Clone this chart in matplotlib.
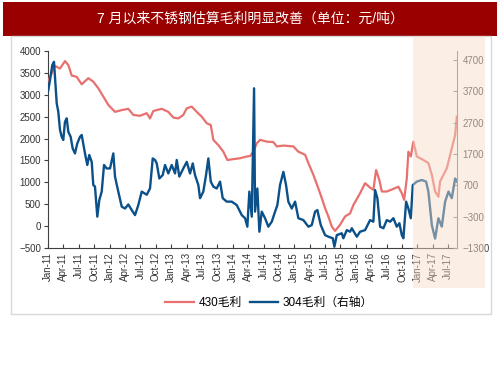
import matplotlib
matplotlib.use("Agg")
import matplotlib.pyplot as plt
from matplotlib.patches import Rectangle

plt.rcParams['font.family'] = ['Liberation Sans', 'Noto Sans CJK SC', 'DejaVu Sans']

title = "7 月以来不锈钢估算毛利明显改善（单位：元/吨）"
label_430 = "430毛利"
label_304 = "304毛利（右轴）"

# x positions: months elapsed since Jan-2011
t430 = [0, 1.36, 2.34, 3.31, 3.96, 4.62, 5.59, 6.57, 7.86, 8.83, 9.8, 10.78, 11.75, 13.06, 14.37,
        15.65, 16.63, 17.93, 19.24, 19.88, 20.53, 22.16, 23.45, 24.42, 25.4, 26.37, 27.04, 28.01,
        28.99, 29.96, 30.94, 31.72, 32.22, 33.2, 34.17, 34.95, 36.12, 37.43, 38.73, 39.38, 40.02,
        40.68, 41.33, 42.63, 43.92, 44.58, 45.87, 47.82, 48.79, 50.1, 50.74, 51.72, 52.69, 53.35,
        54.0, 54.64, 55.3, 55.95, 56.92, 57.89, 58.87, 59.51, 60.82, 61.79, 62.77, 63.41, 63.94,
        64.58, 65.05, 66.02, 67.31, 68.28, 68.95, 69.4, 69.92, 70.23, 70.7, 71.21, 71.87, 73.16,
        74.13, 74.8, 75.44, 76.08, 76.41, 77.72, 78.69, 79.34, 79.67]
v430 = [3300, 3660, 3600, 3770, 3680, 3440, 3410, 3240, 3380, 3300, 3150, 2960, 2770, 2610, 2650,
        2680, 2540, 2520, 2580, 2460, 2630, 2680, 2610, 2480, 2460, 2540, 2690, 2730, 2610, 2500,
        2350, 2310, 1970, 1850, 1700, 1510, 1530, 1550, 1590, 1600, 1700, 1890, 1970, 1930, 1920,
        1820, 1840, 1820, 1700, 1630, 1440, 1170, 860, 640, 410, 220, -10, -110, 30, 220,
        290, 480, 750, 980, 880, 830, 1280, 1050, 790, 790, 850, 900, 750, 600, 1090,
        1700, 1590, 1930, 1590, 1510, 1440, 1170, 790, 670, 1020, 1320, 1780, 2080, 2500]

t304 = [0.06, 0.39, 0.84, 1.17, 1.36, 1.70, 2.01, 2.34, 2.67, 2.98, 3.31, 3.65, 3.96, 4.42, 4.81,
        5.26, 5.71, 6.24, 6.57, 7.21, 7.66, 8.05, 8.52, 8.83, 9.16, 9.61, 10.0, 10.47, 10.92, 11.44,
        12.09, 12.73, 13.06, 13.70, 14.37, 15.01, 15.65, 16.32, 16.96, 17.60, 18.27, 19.24, 19.88,
        20.41, 20.86, 21.19, 21.70, 22.36, 22.81, 23.45, 24.11, 24.76, 25.09, 25.59, 26.37, 27.04,
        27.68, 28.21, 28.65, 29.30, 29.63, 30.27, 30.80, 31.25, 31.72, 32.22, 32.88, 33.53, 34.05,
        34.83, 35.81, 36.78, 37.76, 38.40, 38.85, 39.24, 39.71, 40.16, 40.35, 40.80, 41.19, 41.66,
        42.30, 42.94, 43.61, 44.25, 44.70, 45.22, 45.87, 46.39, 46.84, 47.50, 48.15, 48.79, 49.77,
        50.74, 51.40, 52.05, 52.49, 53.16, 54.0, 54.64, 55.50, 55.81, 56.28, 57.25, 57.56, 58.23,
        58.87, 59.21, 60.18, 60.82, 61.79, 62.77, 63.41, 63.74, 64.19, 64.72, 65.36, 66.02, 66.67,
        67.31, 67.97, 68.48, 68.95, 69.26, 69.79, 70.23, 70.70, 71.09, 71.87, 72.85, 73.68, 74.13,
        74.80, 75.44, 76.08, 76.74, 77.39, 78.05, 78.69, 79.34, 79.67]
v304 = [3740, 4060, 4540, 4645, 4170, 3320, 3050, 2470, 2250, 2150, 2730, 2840, 2410, 2250, 1880,
        1720, 2040, 2250, 2310, 1720, 1350, 1670, 1450, 710, 660, -300, 230, 500, 1350, 1240,
        1240, 1720, 980, 500, 20, -40, 90, -90, -250, 70, 500, 400, 600,
        1560, 1510, 1400, 920, 1030, 1350, 1080, 1350, 1080, 1510, 980, 1240, 1450,
        1080, 1400, 1030, 710, 290, 500, 1030, 1560, 820, 660, 600, 820, 290,
        180, 180, 70, -250, -350, -620, 500, -300, 3800, -140, 600, -780, -140,
        -350, -620, -460, -140, 70, 710, 1130, 710, 180, -40, 180, -350, -410,
        -620, -570, -140, -90, -570, -890, -940, -990, -1260, -890, -830, -990, -730,
        -780, -670, -940, -780, -730, -410, -460, 550, 290, -620, -670, -410, -460,
        -350, -620, -510, -890, -990, 180, -40, -350, 710, 820, 870, 820, 500,
        -570, -1000, -350, -620, 180, 500, 290, 920, 820]

tick_months = list(range(0, 79, 3))
tick_labels = [f"{m}-{y}" for y in range(11, 18) for m in ["Jan", "Apr", "Jul", "Oct"]][:len(tick_months)]

left_ticks = list(range(-500, 4001, 500))
right_ticks = list(range(-1300, 4701, 1000))

RED = "#E8706E"
BLUE = "#0B5089"

fig = plt.figure(figsize=(5.03, 3.78), dpi=100)
fig.patch.set_facecolor("white")

ax = fig.add_axes([0.0954, 0.344, 0.8131, 0.521])
ax2 = ax.twinx()

ax.plot(t430, v430, color=RED, lw=1.6, zorder=3)
ax2.plot(t304, v304, color=BLUE, lw=1.7, zorder=3)

ax.set_xlim(0, 79.7)
ax.set_ylim(-500, 4000)
ax2.set_ylim(-1300, 4990)
ax.set_yticks(left_ticks)
ax2.set_yticks(right_ticks)
ax.set_xticks(tick_months)
ax.set_xticklabels(tick_labels, rotation=90)

for a in (ax, ax2):
    a.spines['top'].set_visible(False)
    a.set_facecolor('none')
ax.spines['right'].set_visible(False)
ax2.spines['left'].set_visible(False)
ax2.spines['bottom'].set_visible(False)
ax.spines['left'].set_color('#404040')
ax.spines['bottom'].set_color('#404040')
ax2.spines['right'].set_color('#808080')

ax.tick_params(axis='x', direction='in', length=3, pad=3, labelsize=7, colors='#404040', labelcolor='#333333')
ax.tick_params(axis='y', direction='out', length=3, pad=2, labelsize=7, colors='#404040', labelcolor='#333333')
ax2.tick_params(axis='y', direction='in', length=3, pad=4, labelsize=7, colors='#808080', labelcolor='#444444')

# title bar
fig.patches.append(Rectangle((0.006, 0.905), 0.982, 0.09, transform=fig.transFigure,
                             facecolor="#990000", edgecolor='none', zorder=0))
fig.text(0.497, 0.95, title, color='white', fontsize=10, ha='center', va='center')

# outer frame
fig.patches.append(Rectangle((0.022, 0.169), 0.954, 0.736, transform=fig.transFigure,
                             facecolor='none', edgecolor='#D9D9D9', lw=1, zorder=0))

# legend
h1, = ax.plot([], [], color=RED, lw=1.6)
h2, = ax.plot([], [], color=BLUE, lw=1.7)
fig.legend([h1, h2], [label_430, label_304], loc='center', bbox_to_anchor=(0.535, 0.198),
           ncol=2, frameon=False, fontsize=8.5, handlelength=2.4, columnspacing=0.7,
           handletextpad=0.4)

# highlighted recent period (overlay)
ov = Rectangle((0.821, 0.238), 0.143, 0.667, transform=fig.transFigure,
               facecolor="#F8DCC6", edgecolor='none', alpha=0.45, zorder=10)
fig.add_artist(ov)

fig.savefig("out.png", dpi=100)
